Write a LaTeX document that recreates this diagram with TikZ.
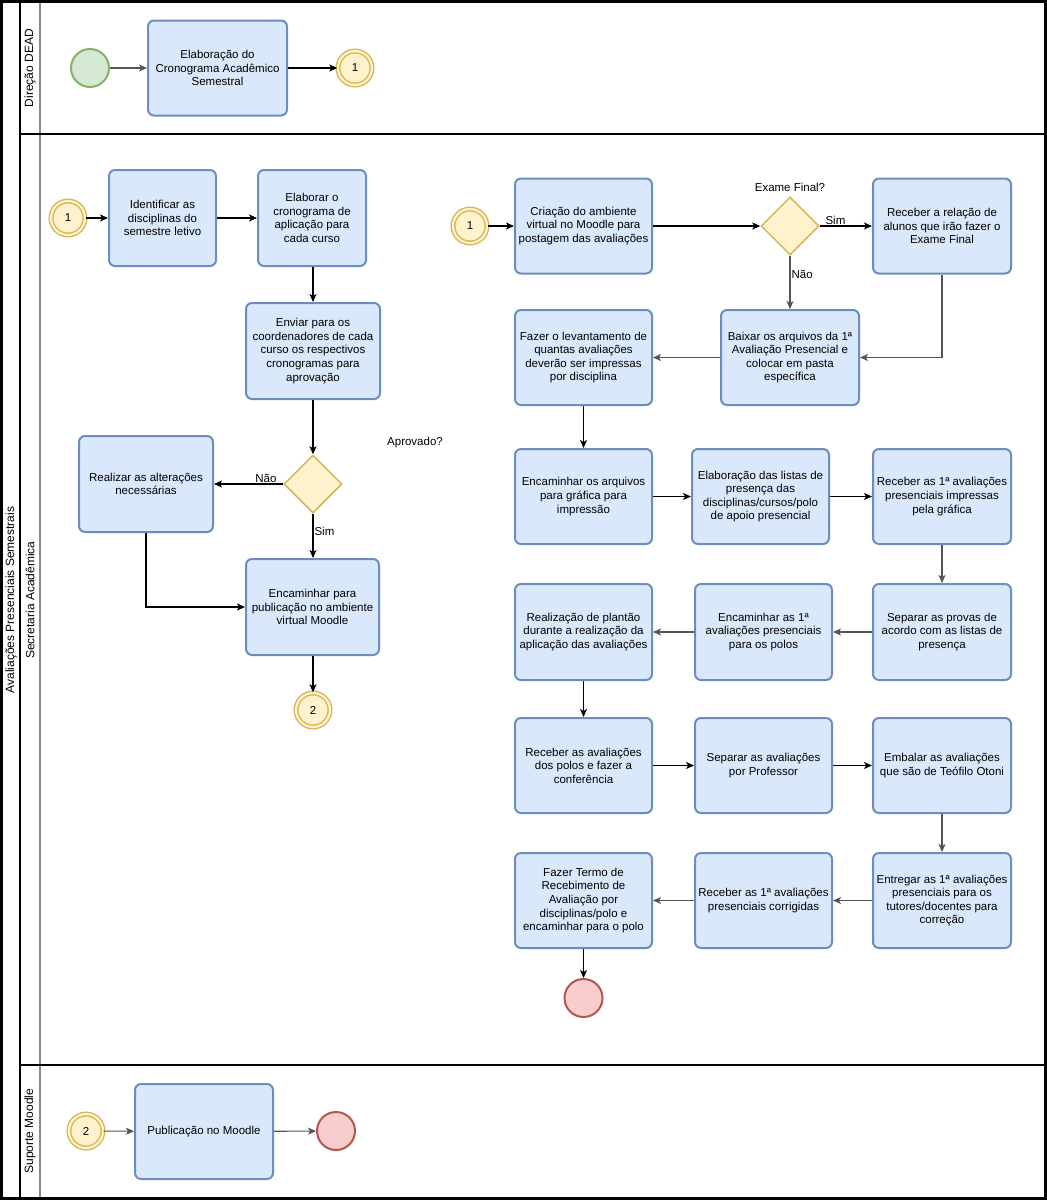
\documentclass[tikz,border=0pt]{standalone}
\usepackage{fontspec}
\setmainfont{Liberation Sans}
\usetikzlibrary{shapes.geometric,arrows.meta}
\definecolor{taskfill}{HTML}{DAE8FC}
\definecolor{taskline}{HTML}{6C8EBF}
\definecolor{startfill}{HTML}{D5E8D4}
\definecolor{startline}{HTML}{82B366}
\definecolor{endfill}{HTML}{F8CECC}
\definecolor{endline}{HTML}{B85450}
\definecolor{gwfill}{HTML}{FFF2CC}
\definecolor{gwline}{HTML}{D6B656}
\definecolor{arrgray}{HTML}{555555}
\definecolor{lanegray}{HTML}{8A8A8A}
\newcommand\dfont{\fontsize{11.5}{13.6}\selectfont}
\newcommand\lfont{\fontsize{12}{14}\selectfont}
\begin{document}
\begin{tikzpicture}[x=1pt,y=-1pt,
  tk/.style 2 args={draw=taskline, fill=taskfill, line width=2pt, rounded corners=6pt,
    align=center, inner sep=2pt, font=\dfont, minimum width=#1pt, minimum height=#2pt},
  ev/.style={circle, minimum size=38pt, inner sep=0pt, line width=2pt},
  startev/.style={ev, draw=startline, fill=startfill},
  endev/.style={ev, draw=endline, fill=endfill},
  linkev/.style={circle, minimum size=34pt, inner sep=0pt, draw=gwline, double=gwfill,
    double distance=2.2pt, line width=1.4pt, fill=gwfill, font=\dfont},
  gw/.style={diamond, aspect=1, minimum width=58pt, minimum height=58pt, inner sep=0pt,
    draw=gwline, fill=gwfill, line width=1.5pt},
  arr/.style={draw=black, line width=1.1pt, -{Stealth[length=8pt,width=7pt,inset=2pt]}},
  garr/.style={arr, draw=arrgray},
  lbl/.style={font=\dfont, inner sep=1pt},
  lanelbl/.style={font=\lfont, rotate=90, inner sep=0pt}
]
\useasboundingbox (0,0) rectangle (1047,1200);
\fill[white] (0,0) rectangle (1047,1200);

% pool and lanes
\draw[lanegray, line width=1.8pt] (40,0) -- (40,1200);
\draw[black, line width=1.5pt] (20,0) -- (20,1200);
\draw[black, line width=1.3pt] (20,134) -- (1045,134);
\draw[black, line width=1.3pt] (20,1065) -- (1045,1065);
\draw[black, line width=2.8pt] (1.4,1.4) rectangle (1045.6,1198.6);

\node[lanelbl] (pool) at (11,600) {Avaliações Presenciais Semestrais};
\node[lanelbl] (lane1) at (30,68) {Direção DEAD};
\node[lanelbl] (lane2) at (30,600) {Secretaria Acadêmica};
\node[lanelbl] (lane3) at (30,1131) {Suporte Moodle};

% ---- Direção DEAD
\node[startev] (s0) at (90,68) {};
\node[tk={139}{95}] (t0) at (217.5,68) {Elaboração do\\Cronograma Acadêmico\\Semestral};
\node[linkev] (l0) at (355,68) {1};
\draw[garr] (s0) -- (t0);
\draw[arr] (t0) -- (l0);

% ---- Secretaria: left part
\node[linkev] (la) at (68,218) {1};
\node[tk={107}{96}] (a1) at (162.5,218) {Identificar as\\disciplinas do\\semestre letivo};
\node[tk={108}{96}] (a2) at (312,218) {Elaborar o\\cronograma de\\aplicação para\\cada curso};
\node[tk={134}{96}] (a3) at (313,351) {Enviar para os\\coordenadores de cada\\curso os respectivos\\cronogramas para\\aprovação};
\node[gw] (g1) at (313,484) {};
\node[lbl] (g1l) at (415,443) {Aprovado?};
\node[tk={134}{96}] (a4) at (146,484) {Realizar as alterações\\necessárias};
\node[tk={133}{96}] (a5) at (312.5,607) {Encaminhar para\\publicação no ambiente\\virtual Moodle};
\node[linkev] (lb) at (313,710) {2};

\draw[arr] (la) -- (a1);
\draw[arr] (a1) -- (a2);
\draw[arr] (a2.south -| g1) -- (a3.north -| g1);
\draw[arr] (a3.south -| g1) -- (g1.north);
\draw[arr] (g1.west) -- node[lbl, above, pos=0.25] (nao1) {Não} (a4.east);
\draw[arr] (g1.south) -- node[lbl, right, pos=0.4] (sim1) {Sim} (a5.north -| g1);
\draw[arr] (a4.south) |- (a5.west);
\draw[arr] (a5.south -| g1) -- (lb);

% ---- Secretaria: right part
\node[linkev] (lc) at (470,226) {1};
\node[tk={137}{95}] (b1) at (583.5,226) {Criação do ambiente\\virtual no Moodle para\\postagem das avaliações};
\node[gw] (g2) at (790,226) {};
\node[lbl] (g2l) at (790,187) {Exame Final?};
\node[tk={138}{95}] (b2) at (942,226) {Receber a relação de\\alunos que irão fazer o\\Exame Final};
\node[tk={138}{95}] (b3) at (790,357.5) {Baixar os arquivos da 1ª\\Avaliação Presencial e\\colocar em pasta\\específica};
\node[tk={137}{95}] (b4) at (583.5,357.5) {Fazer o levantamento de\\quantas avaliações\\deverão ser impressas\\por disciplina};

\node[tk={137}{95}] (c1) at (583.5,496.5) {Encaminhar os arquivos\\para gráfica para\\impressão};
\node[tk={137}{95}] (c2) at (760.5,496.5) {Elaboração das listas de\\presença das\\disciplinas/cursos/polo\\de apoio presencial};
\node[tk={138}{95}] (c3) at (942,496.5) {Receber as 1ª avaliações\\presenciais impressas\\pela gráfica};

\node[tk={138}{96}] (d3) at (942,632) {Separar as provas de\\acordo com as listas de\\presença};
\node[tk={137}{96}] (d2) at (763.5,632) {Encaminhar as 1ª\\avaliações presenciais\\para os polos};
\node[tk={137}{96}] (d1) at (583.5,632) {Realização de plantão\\durante a realização da\\aplicação das avaliações};

\node[tk={137}{95}] (e1) at (583.5,765.5) {Receber as avaliações\\dos polos e fazer a\\conferência};
\node[tk={137}{95}] (e2) at (763.5,765.5) {Separar as avaliações\\por Professor};
\node[tk={138}{95}] (e3) at (942,765.5) {Embalar as avaliações\\que são de Teófilo Otoni};

\node[tk={138}{95}] (f3) at (942,900.5) {Entregar as 1ª avaliações\\presenciais para os\\tutores/docentes para\\correção};
\node[tk={137}{95}] (f2) at (763.5,900.5) {Receber as 1ª avaliações\\presenciais corrigidas};
\node[tk={137}{95}] (f1) at (583.5,900.5) {Fazer Termo de\\Recebimento de\\Avaliação por\\disciplinas/polo e\\encaminhar para o polo};
\node[endev] (end1) at (583.5,998) {};

\draw[arr] (lc) -- (b1);
\draw[arr] (b1) -- (g2);
\draw[arr] (g2) -- node[lbl, above, pos=0.3] (sim2) {Sim} (b2);
\draw[garr] (g2.south) -- node[lbl, right, pos=0.35] (nao2) {Não} (b3.north);
\draw[garr] (b2.south) |- (b3.east);
\draw[garr] (b3) -- (b4);
\draw[arr] (b4) -- (c1);
\draw[arr] (c1) -- (c2);
\draw[arr] (c2) -- (c3);
\draw[garr] (c3) -- (d3);
\draw[garr] (d3) -- (d2);
\draw[garr] (d2) -- (d1);
\draw[arr] (d1) -- (e1);
\draw[arr] (e1) -- (e2);
\draw[arr] (e2) -- (e3);
\draw[garr] (e3) -- (f3);
\draw[garr] (f3) -- (f2);
\draw[garr] (f2) -- (f1);
\draw[arr] (f1) -- (end1);

% ---- Suporte Moodle
\node[linkev] (ld) at (86,1131) {2};
\node[tk={138}{95}] (p1) at (204,1131.5) {Publicação no Moodle};
\node[endev] (end2) at (336,1131) {};
\draw[garr] (ld) -- (p1);
\draw[garr] (p1) -- (end2);
\end{tikzpicture}
\end{document}
